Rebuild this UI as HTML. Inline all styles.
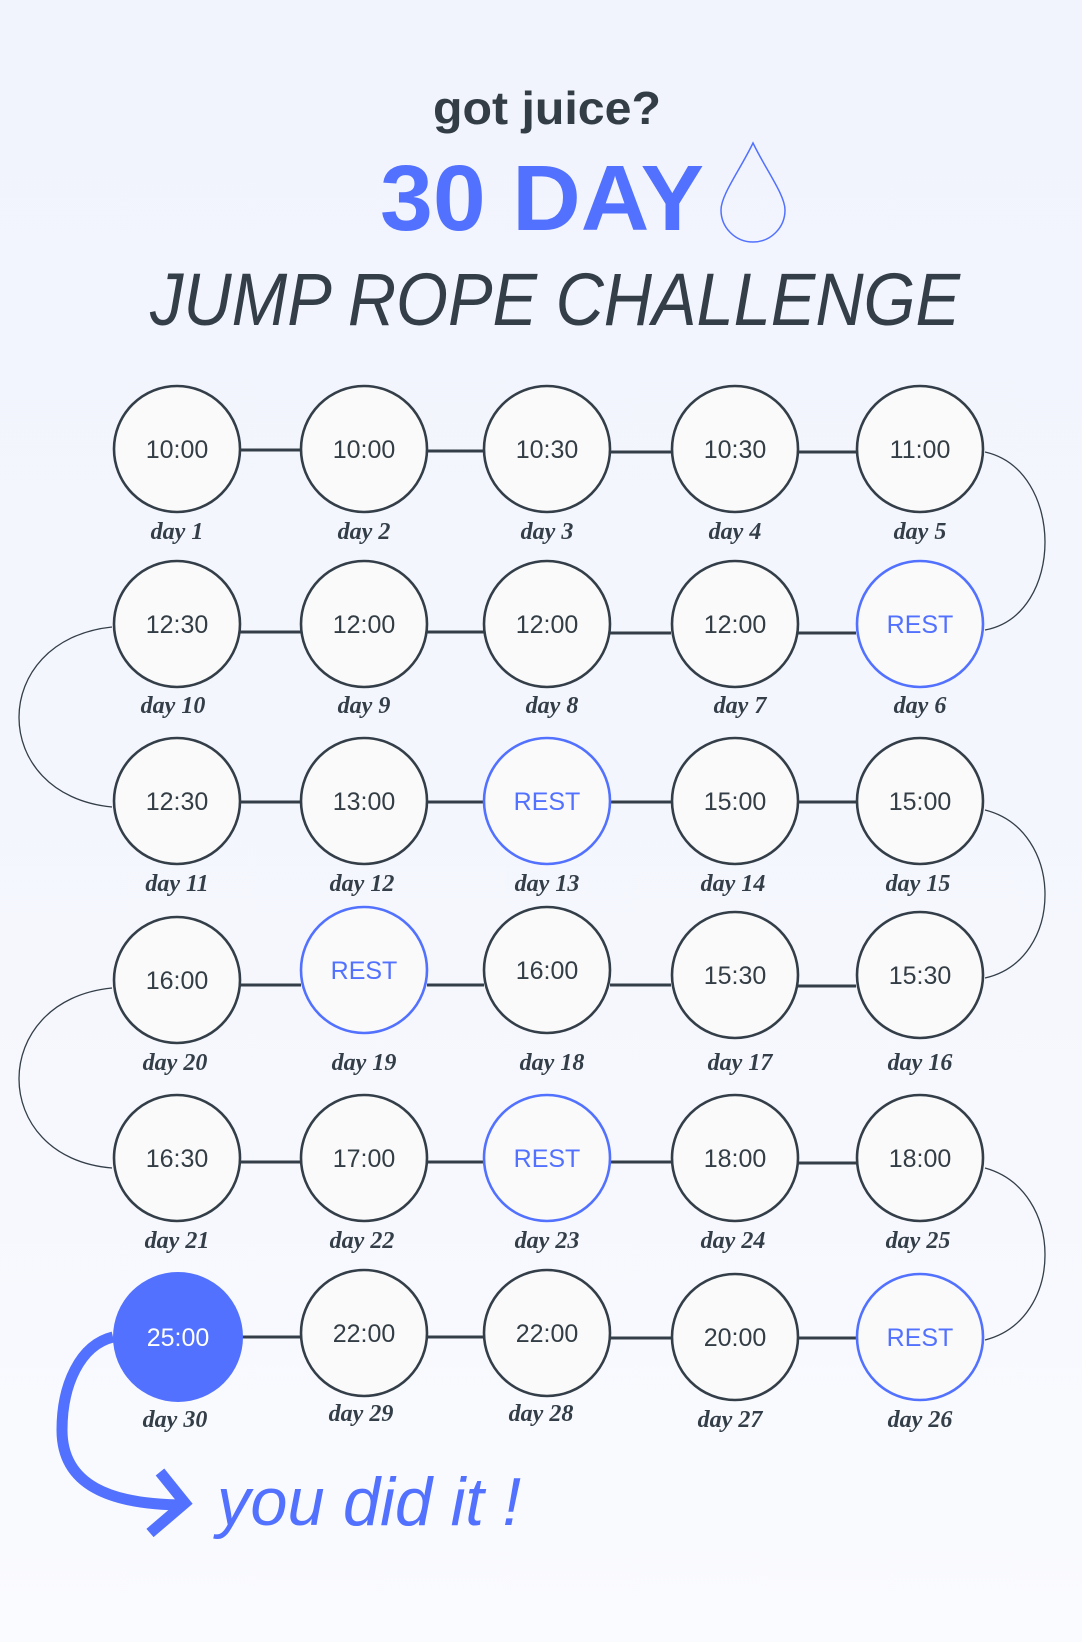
<!DOCTYPE html>
<html><head><meta charset="utf-8"><style>
html,body{margin:0;padding:0;}
body{width:1082px;height:1642px;overflow:hidden;background:linear-gradient(180deg,#f1f4fd 0%,#f5f7fd 60%,#fafbfe 100%);}
svg{display:block;}
.t{font-family:"Liberation Sans",sans-serif;font-size:25px;fill:#333d45;text-anchor:middle;}
.r{fill:#5271ff;}
.d{font-family:"Liberation Serif",serif;font-style:italic;font-weight:bold;font-size:24px;fill:#333e48;text-anchor:middle;}
</style></head><body>
<svg width="1082" height="1642" viewBox="0 0 1082 1642" xmlns="http://www.w3.org/2000/svg">
<text x="547" y="124" font-family="Liberation Sans, sans-serif" font-weight="bold" font-size="46" fill="#333d45" textLength="228" lengthAdjust="spacingAndGlyphs" text-anchor="middle">got juice?</text>
<text x="380" y="230" font-family="Liberation Sans, sans-serif" font-weight="bold" font-size="93" fill="#5271ff" textLength="324" lengthAdjust="spacingAndGlyphs">30 DAY</text>
<path d="M753 143 C740 170,721 195,721 210 A32 32 0 0 0 785 210 C785 195,766 170,753 143 Z" fill="none" stroke="#5271ff" stroke-width="1.5"/>
<text x="150" y="325" font-family="Liberation Sans, sans-serif" font-style="italic" font-size="74" fill="#333e48" textLength="810" lengthAdjust="spacingAndGlyphs">JUMP ROPE CHALLENGE</text>

<g fill="none" stroke="#333e48" stroke-width="3">
<line x1="240" y1="450" x2="301" y2="450"/><line x1="427" y1="451" x2="484" y2="451"/><line x1="610" y1="452" x2="671" y2="452"/><line x1="797" y1="452" x2="856" y2="452"/>
<line x1="240" y1="632" x2="301" y2="632"/><line x1="427" y1="632" x2="484" y2="632"/><line x1="610" y1="633" x2="671" y2="633"/><line x1="797" y1="633" x2="856" y2="633"/>
<line x1="240" y1="802" x2="301" y2="802"/><line x1="427" y1="802" x2="484" y2="802"/><line x1="610" y1="802" x2="671" y2="802"/><line x1="797" y1="802" x2="856" y2="802"/>
<line x1="240" y1="985" x2="301" y2="985"/><line x1="427" y1="985" x2="484" y2="985"/><line x1="610" y1="985" x2="671" y2="985"/><line x1="797" y1="986" x2="856" y2="986"/>
<line x1="240" y1="1162" x2="301" y2="1162"/><line x1="427" y1="1162" x2="484" y2="1162"/><line x1="610" y1="1162" x2="671" y2="1162"/><line x1="797" y1="1163" x2="856" y2="1163"/>
<line x1="240" y1="1337" x2="301" y2="1337"/><line x1="427" y1="1337" x2="484" y2="1337"/><line x1="610" y1="1338" x2="671" y2="1338"/><line x1="797" y1="1338" x2="856" y2="1338"/>
</g>
<g fill="none" stroke="#333e48" stroke-width="1.3">
<path d="M985 452 C1065 470,1065 615,985 630"/>
<path d="M112 627 C-12 640,-12 795,112 807"/>
<path d="M985 810 C1065 830,1065 960,985 978"/>
<path d="M112 988 C-12 1000,-12 1158,112 1168"/>
<path d="M985 1168 C1065 1190,1065 1320,985 1340"/>
</g>

<g stroke-width="2.6" fill="#fafafa">
<g stroke="#333e48">
<circle cx="177" cy="449" r="63"/><circle cx="364" cy="449" r="63"/><circle cx="547" cy="449" r="63"/><circle cx="735" cy="449" r="63"/><circle cx="920" cy="449" r="63"/>
<circle cx="177" cy="624" r="63"/><circle cx="364" cy="624" r="63"/><circle cx="547" cy="624" r="63"/><circle cx="735" cy="624" r="63"/>
<circle cx="177" cy="801" r="63"/><circle cx="364" cy="801" r="63"/><circle cx="735" cy="801" r="63"/><circle cx="920" cy="801" r="63"/>
<circle cx="177" cy="980" r="63"/><circle cx="547" cy="970" r="63"/><circle cx="735" cy="975" r="63"/><circle cx="920" cy="975" r="63"/>
<circle cx="177" cy="1158" r="63"/><circle cx="364" cy="1158" r="63"/><circle cx="735" cy="1158" r="63"/><circle cx="920" cy="1158" r="63"/>
<circle cx="364" cy="1333" r="63"/><circle cx="547" cy="1333" r="63"/><circle cx="735" cy="1337" r="63"/>
</g>
<g stroke="#5271ff">
<circle cx="920" cy="624" r="63"/><circle cx="547" cy="801" r="63"/><circle cx="364" cy="970" r="63"/><circle cx="547" cy="1158" r="63"/><circle cx="920" cy="1337" r="63"/>
</g>
<circle cx="178" cy="1337" r="65" fill="#5271ff" stroke="none"/>
</g>

<g class="t">
<text x="177" y="458">10:00</text><text x="364" y="458">10:00</text><text x="547" y="458">10:30</text><text x="735" y="458">10:30</text><text x="920" y="458">11:00</text>
<text x="177" y="633">12:30</text><text x="364" y="633">12:00</text><text x="547" y="633">12:00</text><text x="735" y="633">12:00</text><text x="920" y="633" class="r">REST</text>
<text x="177" y="810">12:30</text><text x="364" y="810">13:00</text><text x="547" y="810" class="r">REST</text><text x="735" y="810">15:00</text><text x="920" y="810">15:00</text>
<text x="177" y="989">16:00</text><text x="364" y="979" class="r">REST</text><text x="547" y="979">16:00</text><text x="735" y="984">15:30</text><text x="920" y="984">15:30</text>
<text x="177" y="1167">16:30</text><text x="364" y="1167">17:00</text><text x="547" y="1167" class="r">REST</text><text x="735" y="1167">18:00</text><text x="920" y="1167">18:00</text>
<text x="178" y="1346" fill="#ffffff">25:00</text><text x="364" y="1342">22:00</text><text x="547" y="1342">22:00</text><text x="735" y="1346">20:00</text><text x="920" y="1346" class="r">REST</text>
</g>
<g class="d">
<text x="177" y="539">day 1</text><text x="364" y="539">day 2</text><text x="547" y="539">day 3</text><text x="735" y="539">day 4</text><text x="920" y="539">day 5</text>
<text x="173" y="713">day 10</text><text x="364" y="713">day 9</text><text x="552" y="713">day 8</text><text x="740" y="713">day 7</text><text x="920" y="713">day 6</text>
<text x="177" y="891">day 11</text><text x="362" y="891">day 12</text><text x="547" y="891">day 13</text><text x="733" y="891">day 14</text><text x="918" y="891">day 15</text>
<text x="175" y="1070">day 20</text><text x="364" y="1070">day 19</text><text x="552" y="1070">day 18</text><text x="740" y="1070">day 17</text><text x="920" y="1070">day 16</text>
<text x="177" y="1248">day 21</text><text x="362" y="1248">day 22</text><text x="547" y="1248">day 23</text><text x="733" y="1248">day 24</text><text x="918" y="1248">day 25</text>
<text x="175" y="1427">day 30</text><text x="361" y="1421">day 29</text><text x="541" y="1421">day 28</text><text x="730" y="1427">day 27</text><text x="920" y="1427">day 26</text>
</g>

<path d="M113 1337 C80 1345,62 1385,62 1430 C62 1485,110 1505,185 1505" fill="none" stroke="#5271ff" stroke-width="11"/>
<path d="M160 1472 L185 1503 L150 1533" fill="none" stroke="#5271ff" stroke-width="11"/>
<text x="217" y="1525" font-family="Liberation Sans, sans-serif" font-style="italic" font-size="68" fill="#5271ff" textLength="304" lengthAdjust="spacingAndGlyphs">you did it !</text>
</svg>
</body></html>
